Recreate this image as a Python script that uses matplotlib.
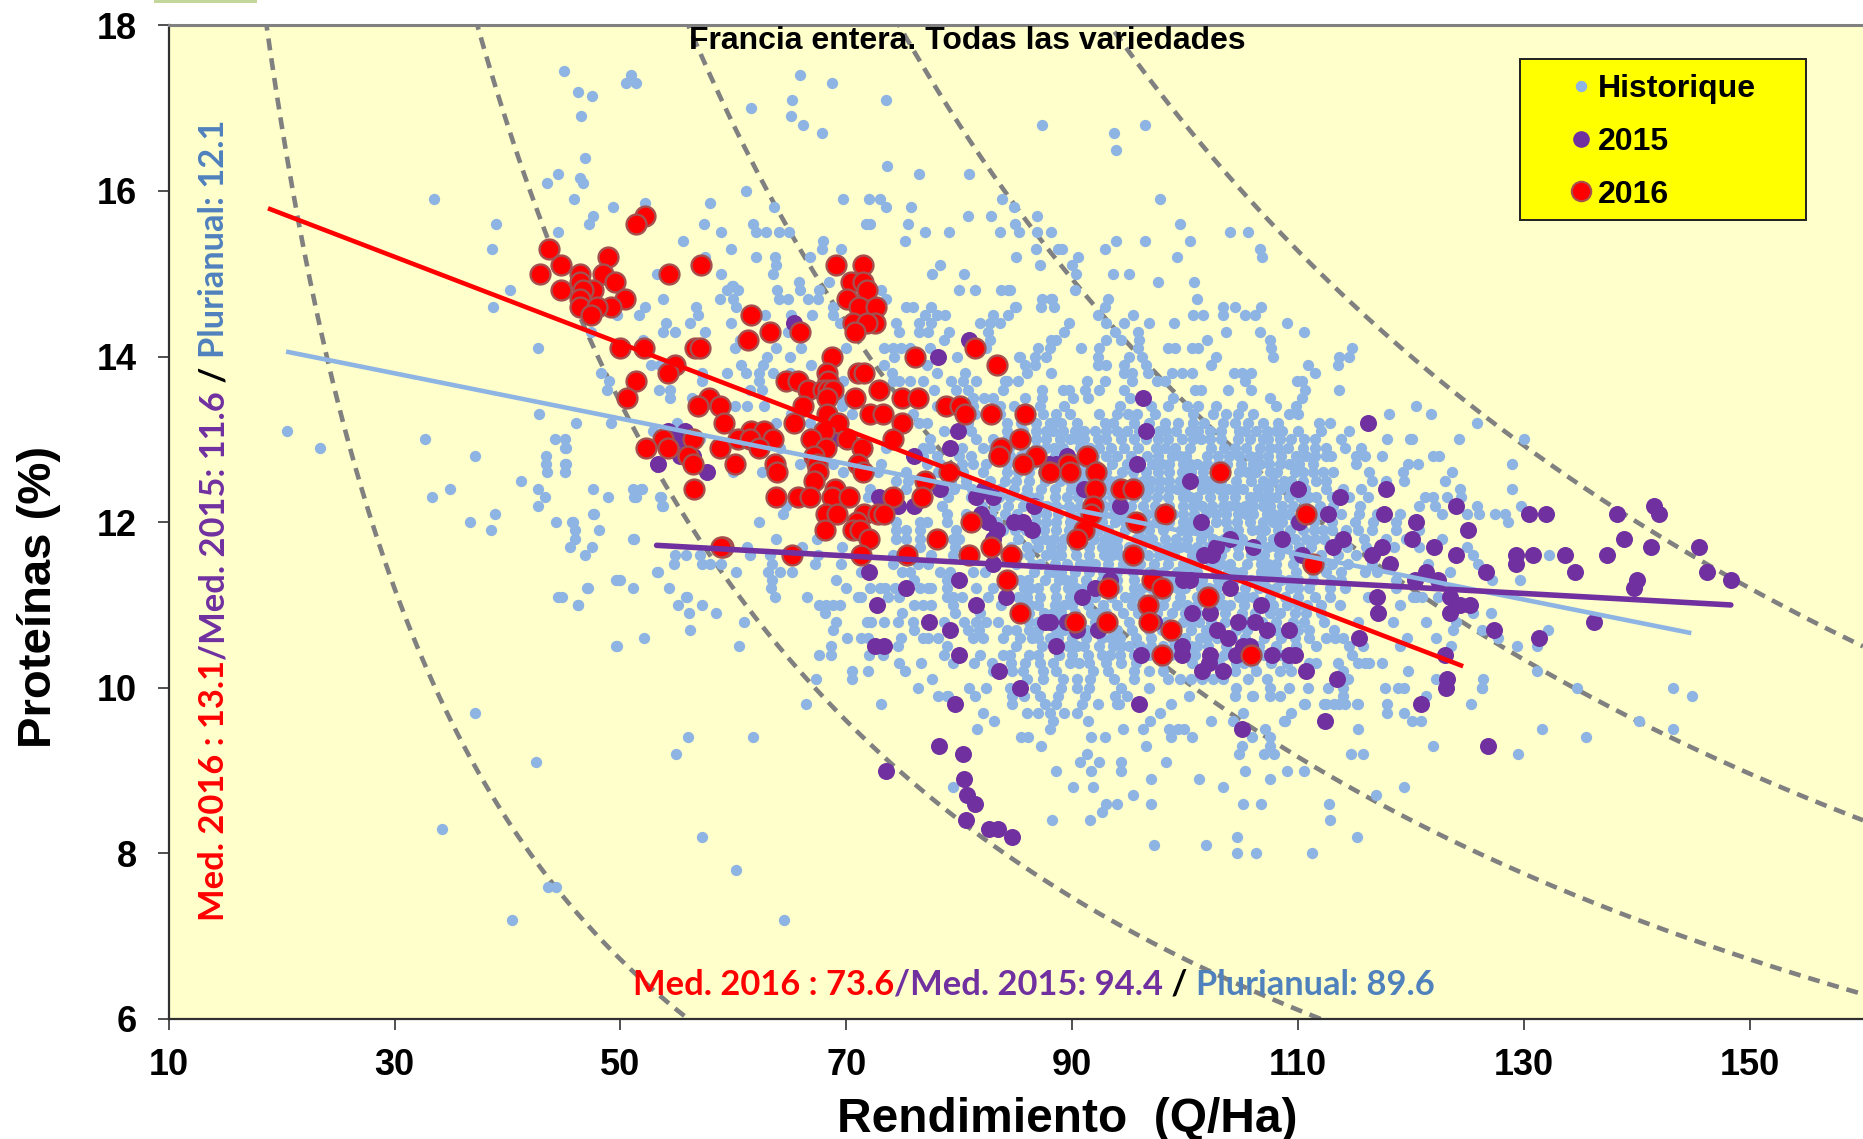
import matplotlib
matplotlib.use("Agg")
import matplotlib.pyplot as plt
from matplotlib.lines import Line2D
from matplotlib.patches import Rectangle

W, H = 1863, 1139
FONT = "Liberation Sans"
LABEL_FONT = "Lato"
C_HIST, C_2015, C_2016 = "#8EB4E3", "#7030A0", "#FF0000"
C_TEXT_HIST = "#4F81BD"

x_ticks = [10, 30, 50, 70, 90, 110, 130, 150]
y_ticks = [6, 8, 10, 12, 14, 16, 18]
iso_levels = [336, 672, 1008, 1344, 1680]

line_2016 = ([18.8, 124.6], [15.79, 10.26])
line_hist = ([20.4, 144.8], [14.06, 10.66])
line_2015 = ([53.2, 148.3], [11.72, 11.0])

# each row: protein value, then the yields read at that protein value
red_rows = [
 (15.7,[52.2]),(15.6,[51.4]),(15.3,[43.7]),(15.2,[48.9]),
 (15.1,[44.7,57.1,69.1,71.5]),(15.0,[42.9,48.5,46.4,54.3]),
 (14.9,[49.5,46.4,70.4,71.5]),(14.8,[44.7,47.6,46.7,71.8]),
 (14.7,[46.4,50.4,70.1]),(14.6,[46.4,49.2,47.9,71.1,72.6]),
 (14.5,[47.4,61.6]),(14.4,[70.6,72.5,71.8]),(14.3,[63.2,65.9,70.8]),
 (14.2,[61.3]),(14.1,[50,52.1,56.6,57.0,81.4]),(14.0,[68.7,76.1]),
 (13.9,[54.8,83.3]),(13.8,[54.2,68.3,71.0,71.6]),(13.7,[51.4,64.7,65.7,68.4]),
 (13.6,[66.6,67.9,68.4,68.8,72.9]),(13.5,[50.6,57.8,68.3,70.8,74.9,76.3]),
 (13.4,[56.9,58.8,66.2,78.8,80.1]),(13.3,[68.3,72.1,73.2,80.5,82.8,85.8]),
 (13.2,[59.2,65.4,69.3,74.9]),(13.1,[61.6,62.7,68]),
 (13.0,[53.8,56.4,60.4,61.5,63.5,66.9,70.1,74.1,85.4]),
 (12.9,[52.3,54.2,58.8,62.3,68.2,71.4,83.7]),(12.8,[56,67.1,83.5,86.8,91.3]),
 (12.7,[56.4,60.1,63.7,71,85.6,67.4,89.6]),
 (12.6,[63.9,67.5,71.5,79.1,87.9,88,89.8,92.1,103.1]),(12.5,[67.1,77]),
 (12.4,[56.5,69,92,94.3,95.4]),(12.3,[76.7,63.8,65.7,66.8,68.7,70.2,74.1]),
 (12.2,[91.8]),(12.1,[68.2,69.2,71.6,72.8,73.3,91.7,98.2,110.7]),
 (12.0,[70.9,81,95.6]),(11.9,[70.6,71.2,68.1,91]),(11.8,[72,78,90.4]),
 (11.7,[59.1,58.9,82.8]),(11.6,[65.2,71.3,75.4,80.9,84.6,95.4]),(11.5,[111.3]),
 (11.3,[84.2,97.1]),(11.2,[93.2,97.9]),(11.1,[102]),(11.0,[96.7]),(10.9,[85.4]),
 (10.8,[96.8,90.2,93.1]),(10.7,[98.7]),(10.4,[97.9,105.8]),
]

purple_rows = [
 (14.4,[65.4]),(14.2,[80.9]),(14.0,[78.1]),(13.5,[96.3]),(13.2,[116.2]),
 (13.1,[54.2,55.7,79.9,96.5]),(13.0,[55.4,68.8]),(12.9,[79.2]),
 (12.8,[55.3,56.4,76,89.5]),(12.7,[53.3,87.9,88.6,95.7]),(12.6,[57.7]),
 (12.5,[100.4]),(12.4,[78.3,82.2,91,110,117.8]),
 (12.3,[72.9,81.5,83,113.7]),(12.2,[74.6,76,86.6,94.2,124,141.5]),
 (12.1,[81.9,112.6,117.6,130.4,131.9,138.2,141.9]),
 (12.0,[82.5,84.8,85.6,101.4,110.1,120.4]),(11.9,[83.3,86.4,125]),
 (11.8,[83,104,108.6,114,120.1,138.8]),
 (11.7,[102.7,106,113.1,117.4,122,141.2,145.5]),
 (11.6,[101.7,102.4,110.3,116.5,124,129.3,130.8,133.6,137.3]),
 (11.5,[83,118.1,129.3]),(11.4,[72,121.3,126.6,134.5,146.2]),
 (11.3,[80,93.3,99.8,100.4,120.3,122.4,140,148.3]),
 (11.2,[75.3,92,104,139.7]),(11.1,[84.1,90.9,117,123.4]),
 (11.0,[72.7,81.5,106.7,124.3,125.2]),(10.9,[100.6,102.2,117.1,123.4]),
 (10.8,[77.3,87.6,88,89.5,97.2,104.7,106.2,136.2]),
 (10.7,[79.2,90.4,92.3,102.8,107.2,109.2,127.3]),(10.6,[103.8,115.4,131.3]),
 (10.5,[72.5,73.3,88.6,99.7,105.1,105.7]),
 (10.4,[80,96.1,99.7,102.2,104.5,107.7,109.2,109.7,123]),(10.3,[102.1]),
 (10.2,[83.5,101.5,103.3,110.7]),(10.1,[113.4,123.2]),(10.0,[85.4,123.1]),
 (9.8,[79.6,95.9,120.9]),(9.6,[112.4]),(9.5,[105]),(9.3,[78.2,126.8]),(9.2,[80.3]),
 (9.0,[73.5]),(8.9,[80.4]),(8.7,[80.7]),(8.6,[81.4]),(8.4,[80.6]),
 (8.3,[82.6,83.4]),(8.2,[84.7]),
]

hist_rows = [
 (17.45,[45.0]),(17.4,[50.9,65.9]),(17.3,[50.5,51.4,68.7]),(17.2,[46.2]),(17.15,[47.5]),
 (17.1,[65.2,73.5]),(17.0,[61.6]),(16.9,[46.5,65.1]),(16.8,[66.2,87.3,96.4]),
 (16.7,[67.8,93.7]),(16.5,[93.9]),(16.4,[46.9]),(16.3,[73.6]),(16.2,[44.5,76.4,80.9]),
 (16.15,[46.4]),(16.1,[43.5,46.7]),(16.0,[61.1]),(15.9,[33.5,45.9,69.7,72,73,83.8,97.8]),
 (15.85,[52.2,57.9]),(15.8,[49.3,63.6,73.5,75.7,84.8]),(15.7,[47.6,80.8,82.8,86.9]),
 (15.6,[39,47.2,57.4,61.7,71.7,72.1,75.5,84.9,99.5]),
 (15.5,[44.5,58.9,62,62.9,64,64.9,77,79.1,83.6,85.3,86.9,88.1,104,105.6]),
 (15.4,[55.5,67.9,75.2,93.9,96.4,100.4]),
 (15.3,[38.6,59.8,67.8,69.5,86.8,88.7,89.1,92.9,106.6]),
 (15.2,[57.5,62,63.7,66.8,85,90.5,99.3,106.8]),(15.1,[63.8,78.3,87.1,90]),
 (15.0,[53.2,58.9,63.5,77.6,80.4,90.3,93.6,95]),(14.9,[65.8,68.5,97.6,100.8]),
 (14.85,[59.9,60.0]),
 (14.8,[40.2,59.4,60.4,63.9,65.9,67.6,73.1,80,81.4,83.7,84.3,84.5,90.2]),
 (14.7,[53.8,58.8,60,64,64.8,66.6,67.5,73.5,88.1,87.3,88.2,93.2,101]),
 (14.6,[38.7,52.2,56.7,60.2,68.8,75.3,75.9,77.5,84.9,85,87.2,88.4,92.9,103.3,104.4,106.7]),
 (14.5,[49.7,51.6,56.9,62.8,65.1,67,68.8,77,78,78.7,83,84.3,92.3,95.4,100.7,101.6,103.3,105.3,106.2]),
 (14.4,[54,56.2,59.8,69.4,74.4,76.4,77.5,81.8,82.7,83.6,89.7,93,94.6,96.8,99,109]),
 (14.3,[47.4,53.8,54.8,57.5,64.8,74.7,76.4,77.2,79.1,82.5,89.3,93.8,95.8,103.6,106.6,110.5]),
 (14.2,[52,60.6,78.6,82.7,88.1,88.6,93,94.3,95.9,107.5,101.9]),
 (14.1,[42.7,60.1,63.8,66,70,73.3,74.1,74.8,75.6,77.4,82.4,87,88,90.8,92.4,95.8,98.5,99.1,100.6,101.1,107.6,114.8]),
 (14.0,[63,65,74.2,79.8,85.3,85.4,86.7,87.7,92.3,95,96.2,102.7,107.8,113.6,114.5]),
 (13.9,[52.7,53.5,60.7,62.6,66.9,73.3,77.1,85.8,86.7,92.3,93,94.6,96.5,102.3,110.9,113.5]),
 (13.8,[48.3,57.2,59.4,61.1,62.3,63.5,65,74,78,80.5,86,88.1,94.6,95.3,96.7,98.8,99.7,100.6,104.3,105,105.8,111.5]),
 (13.7,[49,57.2,62.3,69.7,74.1,74.7,75.6,76.8,79.3,80.3,81.5,84.2,85.2,84,91.3,92.9,95.3,97.5,98.2,105.3,109.9,110.3]),
 (13.6,[48.8,53.4,54.4,61.5,62.5,77.8,79.7,80.8,83.9,87.3,89.2,89.7,91.1,92.4,94.6,100.9,101.4,103.8,105.8,110.6,113.6]),
 (13.5,[54.4,56.3,69.4,81.2,82.2,83,85.8,87.3,90.1,91.4,95.1,98.9,107.5,110.3]),
 (13.4,[60.1,61.2,62.7,69.6,78,81.2,83.6,84.8,87.1,89.3,94.2,97,98.5,100.2,101.1,102.7,105,108,109.8,120.4]),
 (13.3,[42.8,65.1,70.5,75.9,81.4,83.6,87.4,88.6,89.8,92.4,94,94.9,95.7,97.3,100.7,102.5,103.6,104.7,106,109.2,110,118,121.8]),
 (13.2,[46.1,49.2,55,63.8,66.8,76.4,77.1,80.8,84.2,86.8,88,88.3,89,92.9,93.6,98.2,99.4,100.7,101.7,103.3,104.4,106.9,111.8,112.8,125.8]),
 (13.1,[20.5,52.9,78.6,81,84.2,86.8,87.7,88.3,89.2,91,92,94,94.8,97.7,98.3,99.2,100.4,101.1,102.2,103.2,106.3,107.2,108,108.6,110,112,114.5]),
 (13.0,[32.7,44.2,45.1,57,77.4,81.5,84.2,86.8,87.7,88.9,89.8,91,92.3,93,94.3,97.6,98.5,99.7,102.2,103.2,104.7,105.7,106.9,107.3,109.4,111.5,113.8,117.9,119.9,120.1,124.2,130]),
 (12.9,[23.4,45.1,45.2,64.1,73.5,76.8,77.4,80.2,82.1,83,86.8,87.7,89.2,90.7,92.4,95.8,99.1,100.4,104.4,106.6,107.5,109.1,111.5,112.5,114.1,115.6]),
 (12.8,[37.1,43.4,76.8,78,80,81,83,84.5,85.5,87.2,88.5,93,94,96.6,97.6,98.8,100.1,101.9,102.9,105.7,107.3,108.5,109.8,111.5,112.5,112.9,115.1,115.9,117.4,121.9,122.5]),
 (12.7,[43.4,45.1,45.2,65.9,68.8,73.1,77.1,78.3,80.2,81.2,82.4,84.2,86.5,88.8,90.5,92,93.5,96,98.6,99.8,101,101.9,106,106.6,108.4,109.2,110.1,115.1,119.7,120.6,128.9]),
 (12.6,[43.5,45.1,60,62.5,69.7,72.8,75.3,78.1,80.3,82.1,84.2,86.2,88.9,90.8,93,94.4,96.5,98.6,101.6,104.8,106.3,107.5,108.1,109.7,111.3,113.1,116.3,119.3,123.6]),
 (12.5,[41.2,74.4,75.5,79.3,80.6,82.7,85,86.2,87.6,88.9,89.8,91,92.6,94,95.5,97,98.6,99.5,101.9,102.5,104.5,105.8,106.9,110.4,111.6,112.5,116.5,117.8,119.4,123]),
 (12.4,[34.9,42.7,47.6,51.1,51.8,51.9,72.1,75.3,79.5,81.1,84.8,87.2,88.5,89.9,91.2,93.2,94.7,96.2,96.8,97.7,98.6,100,101.5,103,105.1,106.4,108.4,114,115.6,117.8,124.3,128.9]),
 (12.3,[33.3,43.3,48.9,51.2,51.4,53.5,53.6,71.9,79,81,83.5,85.7,87,88.5,89.5,90.5,92.5,93.5,94.5,96.5,97.5,99.8,101,102.2,103.3,104.4,105.7,106.7,108,109.2,111,111.6,114.5,116.2,121.2,121.9,123.2,124.4]),
 (12.2,[42.7,53.7,53.8,64.7,78.5,82,84.3,85.6,86.9,88.6,89.7,90.7,92.8,93.5,95.2,96.3,97.3,98.6,99.8,100.7,103.3,103.9,104.5,106,106.9,107.5,108.6,109.5,111.9,120.7,122.1,125.8,129.7]),
 (12.1,[38.9,47.6,47.7,64.4,73.5,78.9,80.6,84,85.1,86.8,87.7,88.7,89.8,92.7,93.7,95,96.6,97.4,98.9,99.8,100.8,102.7,103.6,104.7,106,107.2,107.8,109.2,113.8,115.4,119,122.7,124.9,126,127.4,128.3]),
 (12.0,[36.7,44.3,45.7,45.8,62.3,74.4,76.5,77.1,78.9,84.6,85.5,86.8,87.7,88.6,89.8,92.6,93.8,94.7,96.4,97.4,98.6,99.8,100.4,102.7,103.6,105.7,106.9,108.6,116.6,118.7,128.6]),
 (11.9,[38.5,46,48.1,74.4,75.3,76.5,79.7,83.9,84.9,87.5,88.6,89.7,92.3,93.2,94.7,95.9,96.8,98,99.6,100.4,102,103.8,104.7,105.9,107.1,109.3,111.4,113,115.3,118.7,120.7]),
 (11.8,[46,51.1,51.2,63.8,67.4,74.4,75.3,76.5,79.4,80,85.2,86.8,88.4,89.3,91.9,92.8,94,95.6,97.1,98.2,99.2,100.2,101.4,102.5,105,106.7,107.8,110.7,112.3,115.8,119.5,122.7]),
 (11.7,[45.5,47.5,61.2,66.1,69.6,76.5,79.6,86,87,88.1,89,91.5,92.6,94,96.1,97.5,98.4,99.5,101,103.5,104.7,107.3,109,111.1,112.7,116,120.7,124.9]),
 (11.6,[46.9,54.8,55.8,57,61.5,63.2,67.5,74.1,77.5,79.4,85.2,86.2,87.7,89,90.3,91.5,92.8,94.2,96.7,97.7,99,100.6,103.2,104.7,105.8,107,108.3,109.6,112,115.1,116.5,125.5,132.2]),
 (11.5,[54.7,57.2,57.9,58.9,63.4,67.2,69.5,74.1,76.3,77.2,85,87.1,88.5,89.5,90.7,92,93.2,94.5,96,97.2,98.5,99.8,101,102.3,104,105.5,106.7,108,109.5,110.8,113,116.5,121.5,125.9]),
 (11.4,[53.2,53.3,60.2,63.1,64.1,65.2,71.3,74.9,75.6,78.3,79.2,81.2,82.3,86.6,87.9,89,90.2,91.5,92.7,94,95.4,96.8,98,99.3,101,102.7,103.8,105,106.7,108,109.8,111.3,113.8,115.9,123.4]),
 (11.3,[49.6,49.9,50,63.4,69.1,76,78.9,84.7,86.1,87.6,88.8,90,91.2,92.6,94,95.5,96.8,98.4,100,101.5,102.9,104.3,105.8,107,108.5,110,112.9,118.7,127.2,129.6]),
 (11.2,[47,47.1,51.1,54.3,63.3,70,72.1,73,73.4,74.3,76.5,77.2,77.5,78.9,81.5,83,85.7,87,88.5,89.6,91,92.8,94,95.5,97,98.6,100,101.4,102.8,105.3,106.5,108,109.3,111,114.1,118.7]),
 (11.1,[44.5,44.8,55.8,55.9,63.7,66.5,71,71.3,73.7,74.7,78.9,79.4,80.2,82.5,85.2,86,87.1,88.6,89.8,92,93.4,94.7,96,98.2,99.5,101,103,104.8,106,107.5,108.8,112.8,116.2,120.2,120.4,121,122.4]),
 (11.0,[46.2,55.1,57.2,46.25,67.6,68.2,68.8,69.4,76,76.8,77.5,79.4,83.7,85.5,87,88.5,90,91.4,92.7,94,95.3,98,99.3,101,102.8,104,105.2,107.8,109,110.8,113.7,119]),
 (10.9,[56.1,58.5,68.1,74.9,79.6,81.8,85,86.2,87.5,89,90.2,91.7,93,94.5,95.8,97.5,98.8,100,103.5,105,107.5,109.7,110.7,125.5,127.1]),
 (10.8,[60.9,69.1,71.8,72.2,73.3,74.6,75.9,78.6,80.4,81.5,82.4,83.4,86.2,90.8,92,93.5,95,98.3,99.8,101.2,103.5,105.5,108,109.5,110.5,115.3,118.4,121.3,124]),
 (10.7,[56.2,68.8,76,80.8,81.7,84.2,85,87,88.6,89.3,91.3,94,95.3,96.8,99,100.5,101.8,105.5,108,111,113.2,123.7,126.3,132.1]),
 (10.6,[52.1,70.1,71.3,71.9,74.8,76.8,77.2,78.1,81.2,82.1,83.9,85.4,86.4,87,88.7,90,91.2,92.6,94.2,95.6,97,100,101.3,102.8,105.3,107,108.5,111,112.5,113.3,114,119.6,122.2,127.7]),
 (10.5,[49.6,49.7,60.5,68.6,74.6,78.9,85,87.3,89.6,91,92.4,93.6,95,96,98,99,100.5,102,103.6,106.5,108,111.6,114.5,115.7,119,123.5,129.4,131.1]),
 (10.4,[67.6,68.6,72,73.2,78.6,81.8,83.9,84.5,86.2,88.8,90,91.4,92.6,94.2,95.5,98.7,100.9,107,108.5,114.8]),
 (10.3,[74.7,76.6,79.4,81.3,82.9,84.6,87.1,88.3,89.8,91.5,93,94.3,100.6,103,104.5,106,107.6,109,111,111.6,113.5,115.3,115.9,116.3,117.4]),
 (10.2,[70.5,71.9,75.2,83,84.7,85.6,87.4,88.6,91.8,93.2,95.5,96.8,98,104.4,106.3,108.4,109.4,114,119.7,131.1]),
 (10.1,[67.3,70.5,77.6,86,87.4,89.2,90.4,91.6,93.7,95.5,98.5,99.5,100.5,101.5,102.5,103.3,105.6,107.2,114.4,122.2,126.4]),
 (10.0,[76.3,80.9,82.4,84.5,86.7,89,90.4,91.5,94.3,96.8,104.5,107.5,109.2,110.9,112.6,114,117.7,118.8,119.4,126.3,134.7,143.2,126.3]),
 (9.9,[78.1,78.9,79,81.4,84.7,85.7,87.1,88.7,91.1,93.8,94.8,100.3,104.4,106,107.5,114,121.3,144.9,105.9,108.4]),
 (9.8,[66.4,73.1,84.7,87.6,88.6,90.9,92.3,94,94.1,98.7,110.5,112.3,113.6,115.3,117.9,125.3,110.6,112.5,113.2,114.1,115.2]),
 (9.7,[37.1,82.1,86,87,88,89.3,90.4,97.8,105.1,109.4,117.9,119.4]),
 (9.6,[83.1,88.3,91.4,96.9,102.3,108.8,104.2,120.1,120.9,140.2,108.7]),
 (9.5,[81.6,88,94.5,96.3,98.6,99.4,99.9,107.1,115.3,131.6,143.2]),
 (9.4,[56,61.7,85.5,86.1,91.7,92.9,98.7,100.6,105.9,107.5,135.5]),
 (9.3,[87.2,96.5,105,107.5,121.9]),
 (9.2,[54.9,91.3,104.8,107,107.9,114.7,115.7,129.5]),
 (9.1,[42.5,90.7,92.4,94.3,98.3]),(9.0,[88.6,91.7,94.3,105.3,109,110.5]),
 (8.9,[97,101.2,107.5]),(8.8,[79.4,90.1,91.8,103.3,119.4]),(8.7,[95.4,116.9]),
 (8.6,[93,94,97,105.1,106.7,112.7]),(8.5,[92.6]),(8.4,[88.2,91.6,112.8]),
 (8.3,[34.2]),(8.2,[57.2,104.6,115.2]),(8.1,[97.2,101.8]),
 (8.0,[104.6,106.3,111.2]),(7.8,[60.2]),(7.6,[43.6,44.3]),(7.2,[40.4,64.5]),
]

# extra readings inside the solid core of the cloud
hist_core_rows = [
 (13.2,[85.5,90.4,95.5,96.8,105.6,108.2]),
 (13.1,[85.6,90.2,93,95.9,96.7,104.8,105.3]),
 (13.0,[83,90.4,95.5,96.5,100.7,101.4,108.4,110.5]),
 (12.9,[84.4,85.7,88.4,91.6,93.4,94.6,97.4,98.2,102.3,103.4,105.4,108.2,110.4]),
 (12.8,[86.2,89.7,90.8,91.9,95.2,99.5,103.9,104.8,106.4,110.7]),
 (12.7,[85.2,87.4,89.6,91.2,94.8,97.1,97.9,100.4,102.9,103.7,104.9,107.4,111.3]),
 (12.6,[85.2,87.4,91.9,95.4,97.6,99.7,100.5,102.6,103.5,105.5,110.4,112.2]),
 (12.5,[84,90.3,93.3,96.3,97.8,100.5,101.2,103.2,107.8,108.7,109.4]),
 (12.4,[83.6,86,90.6,92.4,95.4,99.3,102.2,103.8,104.5,107.3,109.3,110.6,112.5]),
 (12.3,[84.5,86.3,91.5,95.5,98.5,100.4,106.2,107.4,110.2,113]),
 (12.2,[83.2,87.8,91.7,94.4,101.5,102.4,105.3,110.6,113.1,115.5]),
 (12.1,[82.8,90.8,91.7,94.3,101.8,105.4,108.5,110.4,112,117]),
 (12.0,[83.3,90.8,91.7,95.5,101.5,104.6,107.8,109.7,111.4,113,115]),
 (11.9,[85.9,90.8,101.3,106.5,108.2,110.4,112.2,114.2,116.5]),
 (11.8,[87.6,90.4,93.4,96.3,103.4,104.2,108.8,109.7,111.5,113.6,117.8]),
 (11.7,[84.6,90.2,93.3,95,98.9,100.2,102,105.8,108.2,110.1,114.3,118.5]),
 (11.6,[88.4,93.5,95,98.3,101.9,106.4,110.8,113.5]),
 (11.5,[86.4,91.3,95.2,100.4,103.2,107.3,112,114.4,118]),
 (11.4,[88.4,93.4,97.4,100.2,104.4,107.4,112.5,117]),
 (11.3,[85.4,89.4,93.3,97.6,99.2,103.6,106.4,109.2,111.3,113.8]),
 (11.2,[86.3,90.3,93.4,96.2,99.3,102.1,104,107.2,110,112.8]),
 (11.1,[90.8,95.3,97.3,102,105.4,110,111.5]),
 (11.0,[86.3,89.3,96.7,100.2,103.4,106.6,110,112]),
 (10.9,[88.3,92.4,96.6,101,102.2,106.2,108.4,112]),
 (10.8,[87,89,96.6,100.6,102.3,106.8,112.3]),
 (10.7,[86.2,90.1,92.6,97.9,103,104.5,107,110]),
 (10.6,[88,93.4,98.8,101.9,104.1,109.7]),
 (10.5,[90.4,94.3,97,101,105,109.8]),
 (10.4,[87,93.3,96.8,103.4,105.6]),
 (10.3,[85.8,90.6,95.6,98,105.2]),
]


def unpack(rows):
    xs, ys = [], []
    for y, row in rows:
        xs.extend(row)
        ys.extend([y] * len(row))
    return xs, ys


fig = plt.figure(figsize=(W / 100, H / 100), dpi=100, facecolor="white")
ax_l, ax_t, ax_b = 168.6, 25.3, 1019.0
ax = fig.add_axes([ax_l / W, 1 - ax_b / H, 1 - ax_l / W, (ax_b - ax_t) / H])
ax.set_facecolor("#FFFFCC")
ax.set_xlim(10, 160)
ax.set_ylim(6, 18)

curve_x = [10 + 0.5 * i for i in range(301)]
for k in iso_levels:
    ax.plot(curve_x, [k / v for v in curve_x], color="#808080", lw=3.3,
            dashes=(2.6, 1.75), zorder=2, dash_capstyle="butt")

hx, hy = unpack(hist_rows + hist_core_rows)
px, py = unpack(purple_rows)
rx, ry = unpack(red_rows)
ax.scatter(hx, hy, s=66, color=C_HIST, linewidths=0, zorder=3)
ax.scatter(px, py, s=150, color=C_2015, linewidths=0, zorder=4)
ax.scatter(rx, ry, s=205, color=C_2016, edgecolors="#A5504F", linewidths=1.7, zorder=5)

ax.plot(*line_hist, color=C_HIST, lw=3.3, zorder=6, solid_capstyle="butt")
ax.plot(*line_2016, color=C_2016, lw=3.3, zorder=7, solid_capstyle="butt")
ax.plot(*line_2015, color=C_2015, lw=4.0, zorder=8, solid_capstyle="round")

ax.spines["right"].set_visible(False)
ax.spines["top"].set_color("#808080")
ax.spines["top"].set_linewidth(2.2)
ax.spines["left"].set_color("#303030")
ax.spines["left"].set_linewidth(1.6)
ax.spines["bottom"].set_color("#303030")
ax.spines["bottom"].set_linewidth(1.6)
ax.set_xticks(x_ticks)
ax.set_yticks(y_ticks)
ax.tick_params(axis="both", length=8, width=1.1, color="#202020", labelsize=26)
ax.tick_params(axis="x", pad=13)
ax.tick_params(axis="y", pad=15)
for lab in ax.get_xticklabels() + ax.get_yticklabels():
    lab.set_fontfamily(FONT)
    lab.set_fontweight("bold")

fig.text(1067 / W, 1 - 1120 / H, "Rendimiento  (Q/Ha)", family=FONT, weight="bold",
         fontsize=34.5, ha="center", va="center")
fig.text(39 / W, 1 - 597 / H, "Proteínas (%)", family=FONT, weight="bold",
         fontsize=34, rotation=90, ha="center", va="center")
ax.set_title("Francia entera. Todas las variedades", family=FONT, weight="bold",
             fontsize=23, x=(967.6 - ax_l) / (W - ax_l), y=1 - (57 - ax_t) / (ax_b - ax_t),
             zorder=20)

# top-left sliver of a logo cut by the crop
fig.add_artist(Rectangle((154 / W, 1 - 3 / H), 103 / W, 3 / H, transform=fig.transFigure,
                         color="#C3D69B", lw=0))

# coloured median captions, laid out from measured text widths
parts_x = [("Med. 2016 : 73.6", C_2016), ("/Med. 2015: 94.4", C_2015), (" / ", "black"),
           ("Plurianual: 89.6", C_TEXT_HIST)]
parts_y = [("Med. 2016 : 13.1", C_2016), ("/Med. 2015: 11.6", C_2015), (" / ", "black"),
           ("Plurianual: 12.1", C_TEXT_HIST)]
renderer = fig.canvas.get_renderer()
cap_size = 24.8


def advance(s):
    a = fig.text(0, 0, s + "|", family=LABEL_FONT, weight="bold", fontsize=cap_size, alpha=0)
    b = fig.text(0, 0, "|", family=LABEL_FONT, weight="bold", fontsize=cap_size, alpha=0)
    w = a.get_window_extent(renderer).width - b.get_window_extent(renderer).width
    a.remove()
    b.remove()
    return w


def caption(parts, x0, y0, rotation):
    pos = x0 if rotation == 0 else y0
    for s, c in parts:
        if rotation == 0:
            fig.text(pos / W, 1 - y0 / H, s, family=LABEL_FONT, weight="bold", color=c,
                     fontsize=cap_size, ha="left", va="center", zorder=21)
            pos += advance(s)
        else:
            fig.text(x0 / W, 1 - pos / H, s, family=LABEL_FONT, weight="bold", color=c,
                     fontsize=cap_size, rotation=90, ha="center", va="bottom", zorder=21)
            pos -= advance(s)


caption(parts_x, 633, 985, 0)
caption(parts_y, 214, 921, 90)

# legend: yellow box behind a frameless legend
fw, fh = W - ax_l, ax_b - ax_t
ax.add_patch(Rectangle(((1520 - ax_l) / fw, 1 - (220 - ax_t) / fh), 286 / fw, 161 / fh,
                       transform=ax.transAxes, facecolor="#FFFF00", edgecolor="#202020",
                       lw=1.4, zorder=15))
handles = [
    Line2D([], [], ls="", marker="o", ms=8.2, color=C_HIST, mew=0),
    Line2D([], [], ls="", marker="o", ms=12, color=C_2015, mew=0),
    Line2D([], [], ls="", marker="o", ms=14, color=C_2016, mec="#A5504F", mew=1.5),
]
leg = ax.legend(handles, ["Historique", "2015", "2016"], frameon=False, numpoints=1,
                prop={"family": FONT, "weight": "bold", "size": 23},
                loc="upper left",
                bbox_to_anchor=((1510 - ax_l) / fw + 0.027, 1 - (63 - ax_t) / fh),
                borderaxespad=0, borderpad=0.35, labelspacing=0.71,
                handlelength=0.9, handletextpad=0.06)
leg.set_zorder(16)

fig.savefig("out.png", dpi=100)
